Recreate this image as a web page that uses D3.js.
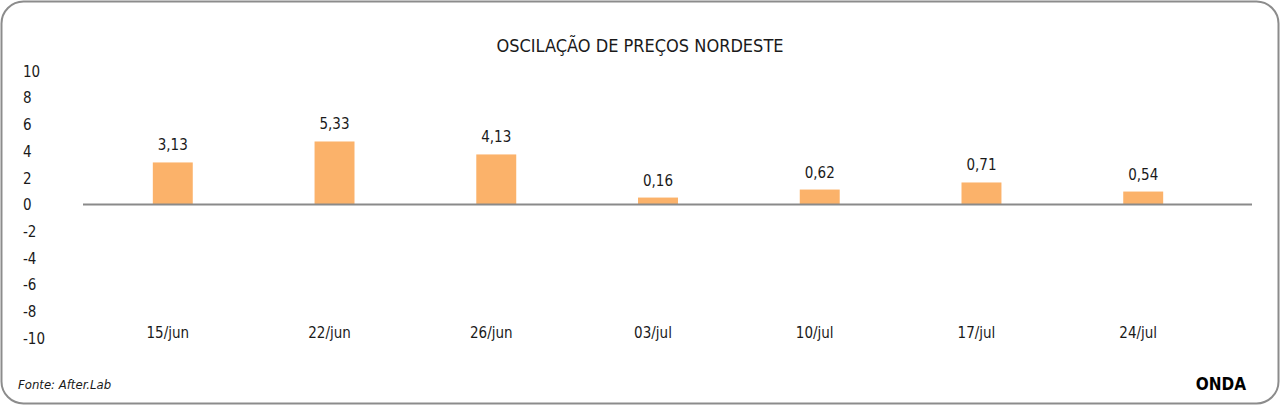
<!DOCTYPE html>
<html><head><meta charset="utf-8">
<script src="https://cdn.jsdelivr.net/npm/d3@7"></script>
<style>
html,body{margin:0;padding:0;background:#fff;}
svg{display:block;}
text{font-family:"DejaVu Sans Condensed","Roboto",sans-serif;fill:#1a1a1a;}
</style></head>
<body>
<svg id="c" width="1280" height="405"></svg>
<script>
const categories = ["15/jun","22/jun","26/jun","03/jul","10/jul","17/jul","24/jul"];
const barValues = [3.15, 4.72, 3.75, 0.52, 1.12, 1.65, 0.97];
const valueLabels = ["3,13","5,33","4,13","0,16","0,62","0,71","0,54"];
const yTicks = [10,8,6,4,2,0,-2,-4,-6,-8,-10];
const title = "OSCILAÇÃO DE PREÇOS NORDESTE";
const source = "Fonte: After.Lab";
const brand = "ONDA";

const svg = d3.select("#c");
svg.append("rect").attr("x",1.5).attr("y",1.5).attr("width",1277).attr("height",402)
  .attr("rx",22).attr("fill","#fff").attr("stroke","#8c8c8c").attr("stroke-width",2);

const y = d3.scaleLinear().domain([-10,10]).range([338,71]);
const x = d3.scaleBand().domain(categories).range([92,1224]).paddingInner(0.753).paddingOuter(0.376);

svg.append("text").attr("x",640).attr("y",52).attr("text-anchor","middle")
  .style("font-size","18px").text(title);

// y axis labels
const yAxis = d3.axisLeft(y).tickValues(yTicks).tickSize(0).tickFormat(d=>String(d));
const gy = svg.append("g").attr("transform","translate(23,0)").call(yAxis);
gy.select(".domain").remove();
gy.selectAll("text").attr("text-anchor","start").attr("x",0).attr("dy","0.35em")
  .style("font-size","15px").style("fill","#1a1a1a");

// bars
svg.append("g").selectAll("rect").data(barValues).join("rect")
  .attr("x",(d,i)=>x(categories[i])).attr("width",x.bandwidth())
  .attr("y",d=>y(Math.max(0,d))).attr("height",d=>Math.abs(y(d)-y(0)))
  .attr("fill","#FBB26A");

// zero line
svg.append("line").attr("x1",83).attr("x2",1252).attr("y1",y(0)).attr("y2",y(0))
  .attr("stroke","#8a8a8a").attr("stroke-width",2);

// value labels
svg.append("g").selectAll("text").data(barValues).join("text")
  .attr("x",(d,i)=>x(categories[i])+x.bandwidth()/2)
  .attr("y",d=>y(d)-12).attr("text-anchor","middle")
  .style("font-size","15px").text((d,i)=>valueLabels[i]);

// x labels
const xAxis = d3.axisBottom(x).tickSize(0);
const gx = svg.append("g").attr("transform","translate(-5,333)").call(xAxis);
gx.select(".domain").remove();
gx.selectAll("text").attr("dy","0.35em").attr("y",0).style("font-size","15px").style("fill","#1a1a1a");

svg.append("text").attr("x",18).attr("y",389).style("font-size","13px").style("font-style","italic").text(source);
svg.append("text").attr("x",1246).attr("y",390).attr("text-anchor","end")
  .style("font-size","17px").style("font-weight","bold").style("fill","#000").text(brand);
</script>
</body></html>
